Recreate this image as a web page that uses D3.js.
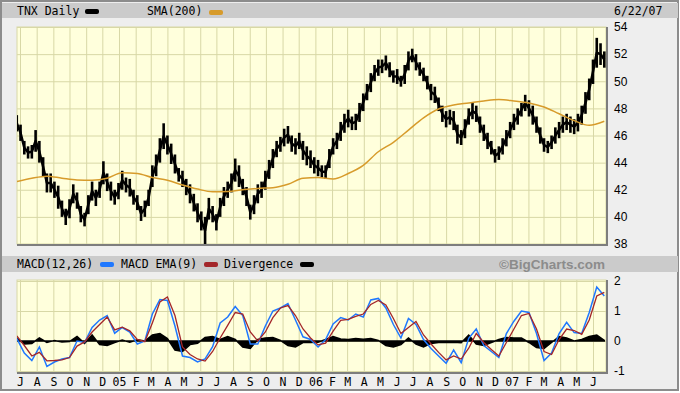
<!DOCTYPE html>
<html>
<head>
<meta charset="utf-8">
<script src="https://cdn.jsdelivr.net/npm/d3@7"></script>
<style>
body { margin: 0; background: #ffffff; }
text { font-family: "DejaVu Sans Mono", monospace; font-size: 11.5px; fill: #000; }
.ylab text { font-family: "Liberation Sans", Arial, sans-serif; font-size: 12px; }
.grid line { stroke: #d8d8a6; stroke-width: 1; }
.grid path { display: none; }
</style>
</head>
<body>
<div id="chart"></div>
<script>
// weekly high / low of TNX (weeks starting 6/25/04)
var priceHigh = [
  47.5, 46.8, 45.6, 45.2, 45.3, 46.4, 45.6, 44.4, 43.2, 43.2,
  42.6, 42.3, 41.2, 40.6, 41.3, 42.4, 41.8, 40.8, 40.3, 41.6,
  42.6, 42.0, 42.6, 44.1, 43.2, 42.6, 42.0, 42.5, 43.4, 42.9,
  42.8, 42.0, 41.6, 40.8, 41.2, 42.0, 43.8, 44.6, 45.8, 46.9,
  46.0, 45.4, 44.6, 43.6, 43.4, 42.8, 42.4, 41.7, 41.0, 40.4,
  40.0, 41.4, 40.8, 40.2, 41.4, 42.2, 42.6, 43.2, 44.3, 43.8,
  42.8, 42.2, 40.9, 41.6, 42.4, 42.6, 43.4, 44.2, 45.0, 45.6,
  45.9, 46.5, 46.7, 46.0, 45.8, 46.2, 45.6, 45.2, 44.9, 44.4,
  44.2, 43.8, 43.8, 45.0, 45.8, 46.2, 47.0, 47.6, 47.9, 47.4,
  47.6, 48.4, 49.1, 49.8, 50.6, 51.2, 51.6, 51.6, 51.9, 51.4,
  50.8, 50.9, 50.4, 51.2, 52.2, 52.4, 52.0, 51.4, 51.0, 50.4,
  49.8, 49.6, 48.8, 48.2, 47.8, 47.9, 47.8, 46.8, 46.4, 47.2,
  48.0, 48.4, 48.2, 47.4, 46.8, 46.2, 45.6, 45.0, 45.2, 45.8,
  46.4, 47.0, 47.6, 48.0, 48.4, 49.0, 48.6, 48.2, 47.4, 46.6,
  45.8, 45.6, 46.0, 46.6, 47.0, 47.4, 47.6, 47.4, 47.2, 47.6,
  48.2, 49.2, 50.2, 51.6, 53.2, 52.8, 52.2
];
var priceLow = [
  46.3, 45.6, 44.6, 44.3, 44.3, 44.8, 44.0, 43.0, 41.8, 41.8,
  41.4, 40.6, 40.0, 39.4, 39.9, 41.0, 40.6, 39.6, 39.3, 40.2,
  41.2, 40.8, 41.4, 42.4, 41.9, 41.2, 40.9, 41.3, 42.0, 41.8,
  41.5, 40.9, 40.5, 39.7, 40.0, 40.8, 42.2, 43.0, 44.0, 45.0,
  44.6, 43.9, 43.2, 42.6, 42.2, 41.6, 41.0, 40.4, 39.6, 39.0,
  38.0, 39.8, 39.6, 39.0, 40.0, 40.8, 41.4, 41.8, 42.6, 42.2,
  41.6, 40.8, 39.8, 40.2, 41.0, 41.4, 42.0, 42.8, 43.6, 44.4,
  44.8, 45.2, 45.4, 44.8, 44.6, 45.0, 44.2, 43.8, 43.6, 43.2,
  43.0, 42.9, 42.8, 43.6, 44.6, 45.0, 45.6, 46.2, 46.6, 46.4,
  46.4, 47.0, 47.8, 48.6, 49.2, 50.0, 50.4, 50.6, 50.8, 50.3,
  49.9, 49.8, 49.6, 49.8, 50.8, 51.4, 50.8, 50.4, 50.0, 49.4,
  48.6, 48.4, 47.8, 47.0, 46.6, 46.8, 46.4, 45.4, 45.3, 45.8,
  46.8, 47.2, 47.0, 46.2, 45.6, 45.0, 44.6, 44.0, 44.2, 44.6,
  45.2, 45.8, 46.4, 46.8, 47.4, 47.8, 47.4, 46.8, 46.2, 45.4,
  44.8, 44.7, 45.0, 45.4, 45.8, 46.2, 46.4, 46.2, 46.1, 46.3,
  46.8, 47.6, 48.6, 49.8, 51.0, 51.2, 51.0
];
// SMA(200), one reading every 4 weeks
var sma200 = [
  42.6, 42.85, 43.0, 42.85, 42.72, 42.7, 42.85, 43.25, 43.2, 42.9,
  42.7, 42.35, 42.05, 41.85, 41.88, 42.0, 42.1, 42.15, 42.4, 42.85,
  42.9, 42.8, 43.2, 43.8, 44.8, 45.5, 46.4, 47.3, 47.95, 48.25,
  48.4, 48.55, 48.65, 48.55, 48.4, 48.1, 47.6, 47.1, 46.75, 47.05
];
// MACD panel, one reading every 2 weeks
var macdLine = [
  0.09, -0.4, -0.65, -0.2, -0.85, -0.7, -0.6, -0.55, 0.0, -0.05,
  0.45, 0.7, 0.85, 0.26, 0.45, 0.3, -0.1, 0.0, 0.9, 1.38,
  1.35, 0.5, -0.5, -0.55, -0.7, -0.6, -0.19, 0.6, 0.8, 1.15,
  0.85, -0.1, -0.1, 0.5, 1.0, 1.1, 1.25, 0.7, 0.14, 0.05,
  -0.2, 0.05, 0.57, 0.78, 0.7, 0.9, 0.8, 1.37, 1.42, 1.1,
  0.55, 0.1, 0.75, 0.55, 0.05, -0.25, -0.5, -0.74, -0.3, -0.72,
  0.09, 0.4, -0.15, -0.35, -0.55, 0.25, 0.66, 1.0, 0.95, 0.25,
  -0.65, -0.4, 0.25, 0.62, 0.28, 0.25, 0.95, 1.8, 1.5
];
var macdEma = [
  0.17, -0.15, -0.5, -0.38, -0.66, -0.65, -0.63, -0.55, -0.17, -0.03,
  0.3, 0.55, 0.8, 0.37, 0.46, 0.34, 0.05, -0.02, 0.6, 1.3,
  1.47, 0.85, -0.2, -0.45, -0.6, -0.67, -0.35, 0.1, 0.52, 0.95,
  0.9, 0.3, 0.0, 0.3, 0.78, 1.1, 1.18, 0.85, 0.4, 0.1,
  -0.13, -0.07, 0.33, 0.69, 0.72, 0.82, 0.9, 1.22, 1.35, 1.2,
  0.75, 0.25, 0.45, 0.65, 0.2, -0.1, -0.38, -0.63, -0.5, -0.6,
  -0.24, 0.25, -0.05, -0.28, -0.5, -0.05, 0.4, 0.85, 0.92, 0.4,
  -0.35, -0.45, 0.05, 0.4, 0.35, 0.22, 0.7, 1.5, 1.62
];
var divergence = [
  0.1, -0.1, -0.08, 0.1, -0.05, 0.02, -0.03, -0.02, 0.15, -0.08,
  0.2, -0.12, -0.15, -0.05, 0.03, -0.04, 0.04, 0.0, 0.2, 0.25,
  0.08, -0.3, -0.35, -0.12, -0.08, 0.12, 0.15, 0.05, 0.15, 0.05,
  -0.2, -0.25, 0.05, 0.1, 0.12, 0.02, -0.15, -0.2, -0.05, -0.05,
  -0.04, 0.05, 0.15, 0.07, 0.05, 0.08, 0.06, 0.08, 0.02, -0.15,
  -0.2, -0.12, 0.1, -0.1, -0.2, -0.08, -0.05, -0.05, -0.04, -0.06,
  0.2, -0.1, -0.15, -0.05, 0.05, 0.12, 0.1, 0.1, -0.05, -0.22,
  -0.25, -0.05, 0.15, 0.1, 0.0, 0.05, 0.15, 0.2, 0.02
];
var priceTicks = [38, 40, 42, 44, 46, 48, 50, 52, 54];
var macdTicks = [-1, 0, 1, 2];

var firstWeek = new Date(2004, 5, 25);
var weekDates = d3.range(priceHigh.length).map(i => d3.timeDay.offset(firstWeek, 7 * i));
var macdDates = d3.range(macdLine.length).map(i => d3.timeDay.offset(firstWeek, 14 * i));
var smaDates = d3.range(sma200.length).map(i => d3.timeDay.offset(firstWeek, 28 * i));

var svgWidth = 680;
var svgHeight = 393;

var main = {left: 17, top: 27, right: 606, bottom: 244};
var lower = {left: 17, top: 280, right: 606, bottom: 372};

var svg = d3.select("#chart")
    .append("svg")
    .attr("width", svgWidth)
    .attr("height", svgHeight);

var x = d3.scaleTime()
    .domain([new Date(2004, 6, 1), new Date(2007, 5, 1)])
    .range([20, 593]);
var yPrice = d3.scaleLinear().domain([38, 54]).range([244, 27]);
var yMacd = d3.scaleLinear().domain([-1, 2]).range([371, 281]);

// frame and header bands
svg.append("rect")
    .attr("x", 1).attr("y", 1).attr("width", 677).attr("height", 389)
    .attr("fill", "#eeeeee").attr("stroke", "#8c8c8c").attr("stroke-width", 2);
svg.append("rect").attr("x", 2).attr("y", 3).attr("width", 676).attr("height", 15).attr("fill", "#cbcbcb");
svg.append("rect").attr("x", 2).attr("y", 256).attr("width", 676).attr("height", 16).attr("fill", "#cbcbcb");

var defs = svg.append("defs");
[["clipMain", main], ["clipMacd", lower]].forEach(function(c) {
  defs.append("clipPath").attr("id", c[0]).append("rect")
      .attr("x", c[1].left).attr("y", c[1].top)
      .attr("width", c[1].right - c[1].left).attr("height", c[1].bottom - c[1].top);
});

function panel(p, yScale, ticks) {
  svg.append("rect")
      .attr("x", p.left).attr("y", p.top)
      .attr("width", p.right - p.left).attr("height", p.bottom - p.top)
      .attr("fill", "#ffffdc").attr("stroke", "#d8d8a6");

  svg.append("g")
      .attr("class", "grid")
      .attr("transform", `translate(${p.left},0)`)
      .call(d3.axisLeft(yScale).tickValues(ticks).tickSize(-(p.right - p.left)).tickFormat(""));

  svg.append("g")
      .attr("class", "grid")
      .attr("transform", `translate(0,${p.bottom})`)
      .call(d3.axisBottom(x).ticks(d3.timeMonth.every(1)).tickSize(-(p.bottom - p.top)).tickFormat(""));
}

panel(main, yPrice, priceTicks);
panel(lower, yMacd, macdTicks);

// price: a high-low bar each week plus a line through the bar middles
var weeks = weekDates.map((d, i) => ({date: d, high: priceHigh[i], low: priceLow[i]}));
var priceGroup = svg.append("g").attr("clip-path", "url(#clipMain)");

priceGroup.append("path")
    .datum(weeks)
    .attr("fill", "none")
    .attr("stroke", "#000")
    .attr("stroke-width", 2.5)
    .attr("stroke-linejoin", "round")
    .attr("d", d3.line().x(d => x(d.date)).y(d => yPrice((d.high + d.low) / 2)));

priceGroup.selectAll("rect")
    .data(weeks)
    .enter()
    .append("rect")
    .attr("x", d => x(d.date) - 1.3)
    .attr("width", 2.6)
    .attr("y", d => yPrice(d.high))
    .attr("height", d => yPrice(d.low) - yPrice(d.high))
    .attr("fill", "#000");

var smaData = smaDates.map((d, i) => ({date: d, value: sma200[i]}));
svg.append("path")
    .datum(smaData)
    .attr("clip-path", "url(#clipMain)")
    .attr("fill", "none")
    .attr("stroke", "#d79b2b")
    .attr("stroke-width", 1.5)
    .attr("d", d3.line().x(d => x(d.date)).y(d => yPrice(d.value)).curve(d3.curveMonotoneX));

// MACD panel
var macdData = macdDates.map((d, i) => ({date: d, macd: macdLine[i], ema: macdEma[i], div: divergence[i]}));
var macdGroup = svg.append("g").attr("clip-path", "url(#clipMacd)");

macdGroup.append("path")
    .datum(macdData)
    .attr("fill", "#000")
    .attr("stroke", "#000")
    .attr("stroke-width", 1.5)
    .attr("d", d3.area().x(d => x(d.date)).y0(yMacd(0)).y1(d => yMacd(d.div)));

macdGroup.append("path")
    .datum(macdData)
    .attr("fill", "none")
    .attr("stroke", "#1f78ff")
    .attr("stroke-width", 1.5)
    .attr("d", d3.line().x(d => x(d.date)).y(d => yMacd(d.macd)));

macdGroup.append("path")
    .datum(macdData)
    .attr("fill", "none")
    .attr("stroke", "#a3262a")
    .attr("stroke-width", 1.3)
    .attr("d", d3.line().x(d => x(d.date)).y(d => yMacd(d.ema)));

// dark edges on the bottom and right of each panel
[main, lower].forEach(function(p) {
  svg.append("line").attr("x1", p.left).attr("x2", p.right + 2).attr("y1", p.bottom + 1).attr("y2", p.bottom + 1)
      .attr("stroke", "#7d7d7d").attr("stroke-width", 2);
  svg.append("line").attr("x1", p.right + 1).attr("x2", p.right + 1).attr("y1", p.top).attr("y2", p.bottom + 2)
      .attr("stroke", "#7d7d7d").attr("stroke-width", 2);
});

// axes labels
function rightAxis(yScale, ticks) {
  var g = svg.append("g")
      .attr("class", "ylab")
      .attr("transform", `translate(${main.right},0)`)
      .call(d3.axisRight(yScale).tickValues(ticks).tickSize(0).tickPadding(8).tickFormat(d => String(d)));
  g.select(".domain").remove();
}
rightAxis(yPrice, priceTicks);
rightAxis(yMacd, macdTicks);

var monthAxis = svg.append("g")
    .attr("transform", `translate(0,${lower.bottom})`)
    .call(d3.axisBottom(x).ticks(d3.timeMonth.every(1)).tickSize(0).tickPadding(6)
      .tickFormat(d => d.getMonth() === 0 ? d3.timeFormat("%y")(d) : d3.timeFormat("%b")(d).charAt(0)));
monthAxis.select(".domain").remove();
monthAxis.selectAll("text").style("font-family", "'DejaVu Sans Mono', monospace").style("font-size", "11.5px");

// legends
function legendText(txt, px, py) {
  svg.append("text").attr("x", px).attr("y", py).text(txt);
}
function swatch(px, py, color) {
  svg.append("rect").attr("x", px).attr("y", py).attr("width", 14).attr("height", 5)
      .attr("rx", 2).attr("fill", color);
}
legendText("TNX Daily", 17, 15);
swatch(85, 9, "#000");
legendText("SMA(200)", 147, 15);
swatch(209, 10, "#d79b2b");
legendText("6/22/07", 614, 15);

legendText("MACD(12,26)", 17, 268);
swatch(100, 262, "#1f78ff");
legendText("MACD EMA(9)", 121, 268);
swatch(204, 262, "#a3262a");
legendText("Divergence", 224, 268);
swatch(300, 262, "#000");

svg.append("text")
    .attr("x", 605)
    .attr("y", 269)
    .attr("text-anchor", "end")
    .style("font-family", "'Liberation Sans', Arial, sans-serif")
    .style("font-size", "13.5px")
    .style("font-weight", "bold")
    .style("fill", "#8c8c8c")
    .text("\u00A9BigCharts.com");
</script>
</body>
</html>
